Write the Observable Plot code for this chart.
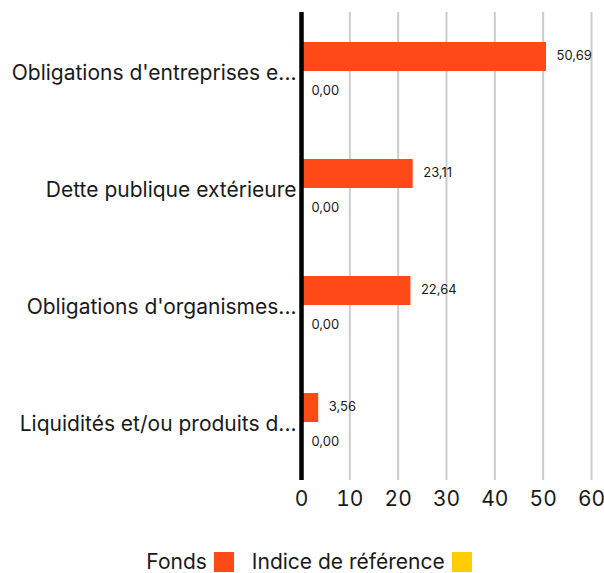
<!DOCTYPE html>
<html>
<head>
<meta charset="utf-8">
<script src="https://cdn.jsdelivr.net/npm/d3@7"></script>
<script src="https://cdn.jsdelivr.net/npm/@observablehq/plot@0.6"></script>
<style>
  body { margin: 0; background: #fff; font-family: Inter, "Open Sans", sans-serif; }
  #legend { display: flex; justify-content: center; align-items: center; font-size: 21px; color: #1a1a1a; margin-top: 28px; margin-left: 14px; }
  .item { display: flex; align-items: center; margin: 0 9px; }
  .sw { width: 20px; height: 20px; display: inline-block; margin-left: 7px; }
</style>
</head>
<body>
<div id="chart"></div>
<div id="legend"></div>
<script>
const categories = ["Obligations d'entreprises e...", "Dette publique extérieure", "Obligations d'organismes...", "Liquidités et/ou produits d..."];
const fonds = [50.69, 23.11, 22.64, 3.56];
const indice = [0.00, 0.00, 0.00, 0.00];
const series = ["Fonds", "Indice de référence"];
const colors = ["#FF4A17", "#FFCE00"];
const xTicks = [0, 10, 20, 30, 40, 50, 60];

const data = [];
categories.forEach((c, i) => {
  data.push({category: c, series: series[0], value: fonds[i]});
  data.push({category: c, series: series[1], value: indice[i]});
});
const fmt = v => v.toFixed(2).replace(".", ",");

const chart = Plot.plot({
  width: 604,
  height: 521,
  marginTop: 11,
  marginBottom: 40,
  marginLeft: 301,
  marginRight: 13,
  style: {fontFamily: "Inter, 'Open Sans', sans-serif", color: "#1a1a1a", background: "#fff"},
  x: {domain: [0, 60], ticks: xTicks, label: null},
  y: {domain: series, axis: null, paddingInner: 0, paddingOuter: 1},
  fy: {domain: categories, padding: 0, label: null},
  color: {domain: series, range: colors},
  marks: [
    Plot.ruleX(xTicks.filter(d => d !== 0), {stroke: "#cccccc", strokeWidth: 2}),
    Plot.barX(data, {x: "value", y: "series", fy: "category", fill: "series"}),
    Plot.text(data.filter(d => d.series === series[0]), {x: "value", y: "series", fy: "category", text: d => fmt(d.value), dx: 10, dy: -1, textAnchor: "start", fontSize: 13, fill: "#1a1a1a"}),
    Plot.text(data.filter(d => d.series === series[1]), {x: "value", y: "series", fy: "category", text: d => fmt(d.value), dx: 10, dy: 5, textAnchor: "start", fontSize: 13, fill: "#1a1a1a"}),
    Plot.ruleX([0], {stroke: "#000", strokeWidth: 4.5}),
    Plot.axisX({ticks: xTicks, tickSize: 0, tickPadding: 11, fontSize: 21, label: null, tickFormat: d => String(d)}),
    Plot.axisFy({anchor: "left", tickSize: 0, tickPadding: 5, fontSize: 21, label: null, dy: 2})
  ]
});
document.getElementById("chart").appendChild(chart);

const legend = document.getElementById("legend");
series.forEach((s, i) => {
  const it = document.createElement("span");
  it.className = "item";
  it.innerHTML = `<span>${s}</span><span class="sw" style="background:${colors[i]}"></span>`;
  legend.appendChild(it);
});
</script>
</body>
</html>
